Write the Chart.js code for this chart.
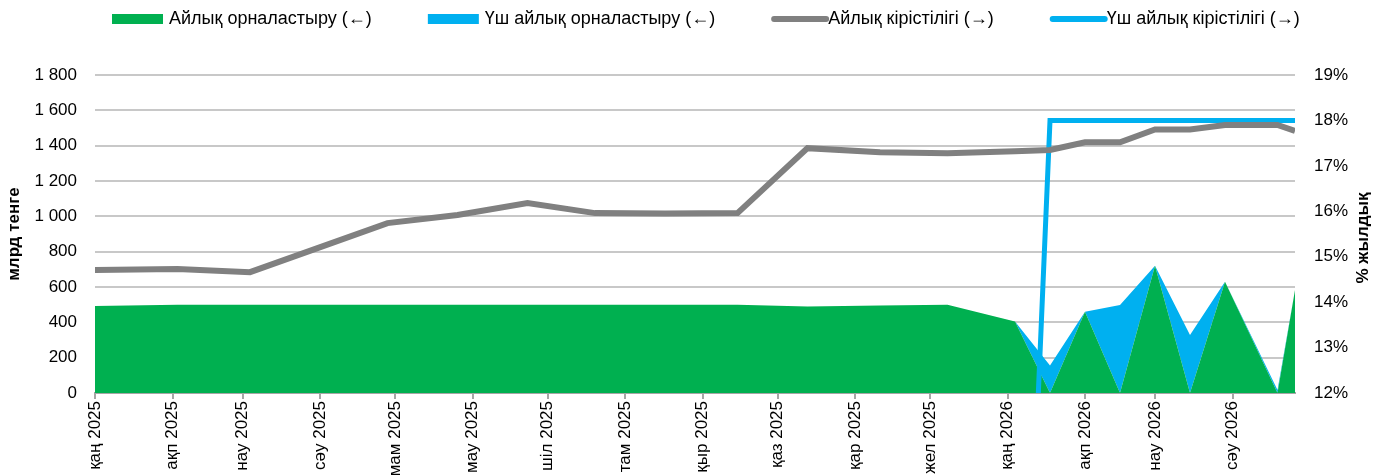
<!DOCTYPE html>
<html lang="kk">
<head>
<meta charset="utf-8">
<title>Орналастыру және кірістілік</title>
<script src="https://cdn.jsdelivr.net/npm/chart.js@4.4.1/dist/chart.umd.min.js"></script>
<style>
  html, body { margin: 0; padding: 0; background: #fff; }
  #wrap { width: 1382px; height: 475px; }
</style>
</head>
<body>
<div id="wrap"><canvas id="chart" width="1382" height="475"></canvas></div>
<script>
// auction dates: monthly in 2025, every two weeks from 2026
const auctionDates = [
  '2025-01-01', '2025-02-03', '2025-03-04', '2025-03-31', '2025-04-28', '2025-05-26',
  '2025-06-23', '2025-07-20', '2025-08-17', '2025-09-15', '2025-10-13', '2025-11-11',
  '2025-12-08', '2026-01-04', '2026-01-18', '2026-02-01', '2026-02-15', '2026-03-01',
  '2026-03-15', '2026-03-29', '2026-04-19', '2026-04-26'
];
// placement, bn tenge (left axis)
const monthlyPlacement = [492, 500, 500, 500, 500, 500, 500, 500, 500, 500, 490, 495, 500, 405, 0, 460, 0, 720, 0, 630, 0, 583];
const threeMonthPlacement = [0, 0, 0, 0, 0, 0, 0, 0, 0, 0, 0, 0, 0, 0, 156, 0, 498, 0, 328, 0, 17, 0];
// yields, % (right axis)
const monthlyYield = [14.71, 14.73, 14.66, 15.19, 15.74, 15.92, 16.18, 15.96, 15.95, 15.96, 17.39, 17.30, 17.28, 17.32, 17.35, 17.52, 17.52, 17.80, 17.80, 17.90, 17.90, 17.77];
const threeMonthDates = ['2026-01-04', '2026-01-18', '2026-02-01', '2026-02-15', '2026-03-01', '2026-03-15', '2026-03-29', '2026-04-19', '2026-04-26'];
const threeMonthYield = [0, 18.0, 18.0, 18.0, 18.0, 18.0, 18.0, 18.0, 18.0];

// x axis
const axisStart = '2025-01-01';
const axisEnd = '2026-04-26';
const monthStarts = [
  '2025-01-01', '2025-02-01', '2025-03-01', '2025-04-01', '2025-05-01', '2025-06-01', '2025-07-01', '2025-08-01',
  '2025-09-01', '2025-10-01', '2025-11-01', '2025-12-01', '2026-01-01', '2026-02-01', '2026-03-01', '2026-04-01'
];
const monthLabels = [
  'қаң 2025', 'ақп 2025', 'нау 2025', 'сәу 2025', 'мам 2025', 'мау 2025', 'шіл 2025', 'там 2025',
  'қыр 2025', 'қаз 2025', 'қар 2025', 'жел 2025', 'қаң 2026', 'ақп 2026', 'нау 2026', 'сәу 2026'
];

const GREEN = '#00b050', BLUE = '#00b0f0', GRAY = '#808080';

// narrow font if there is one, otherwise plain Liberation Sans a bit smaller
const probe = document.createElement('canvas').getContext('2d');
function textWidth(family) {
  probe.font = '20px ' + family;
  return probe.measureText('Айлық 1 800 жылдық').width;
}
const hasNarrow = textWidth("'Liberation Sans Narrow', monospace") !== textWidth('monospace');
const FAMILY = hasNarrow ? "'Liberation Sans Narrow', 'Liberation Sans', Arial, sans-serif" : "'Liberation Sans', Arial, sans-serif";
const SIZE = hasNarrow ? 20 : 17;
const LEGEND_SIZE = hasNarrow ? 21 : 18;

Chart.defaults.font.family = FAMILY;
Chart.defaults.font.size = SIZE;
Chart.defaults.color = '#000';

const day = s => (Date.parse(s) - Date.parse(axisStart)) / 86400000;
const points = (dates, values) => dates.map((d, i) => ({ x: day(d), y: values[i] }));

// legend drawn by hand so the gaps look like the original
const topLegend = {
  id: 'topLegend',
  afterDraw(chart) {
    const ctx = chart.ctx;
    const order = [2, 3, 0, 1];
    ctx.save();
    ctx.font = LEGEND_SIZE + 'px ' + FAMILY;
    ctx.textBaseline = 'middle';
    let x = 112;
    const y = 19;
    order.forEach(i => {
      const ds = chart.data.datasets[i];
      if (ds.yAxisID === 'y') {
        ctx.fillStyle = ds.backgroundColor;
        ctx.fillRect(x, y - 5, 51, 10);
      } else {
        ctx.strokeStyle = ds.borderColor;
        ctx.lineWidth = 6;
        ctx.lineCap = 'round';
        ctx.beginPath();
        ctx.moveTo(x + 3, y);
        ctx.lineTo(x + 55, y);
        ctx.stroke();
      }
      ctx.fillStyle = '#000';
      ctx.fillText(ds.label, x + 57, y);
      x += 57 + ctx.measureText(ds.label).width + 56;
    });
    ctx.restore();
  }
};

// right axis title reads bottom to top, like the left one
const rightTitle = {
  id: 'rightTitle',
  afterDraw(chart) {
    const ctx = chart.ctx;
    const a = chart.chartArea;
    ctx.save();
    ctx.font = 'bold ' + SIZE + 'px ' + FAMILY;
    ctx.fillStyle = '#000';
    ctx.textAlign = 'center';
    ctx.textBaseline = 'middle';
    ctx.translate(1363, (a.top + a.bottom) / 2 + 4);
    ctx.rotate(-Math.PI / 2);
    ctx.fillText('% жылдық', 0, 0);
    ctx.restore();
  }
};

new Chart(document.getElementById('chart'), {
  type: 'line',
  data: {
    datasets: [
      {
        label: 'Айлық кірістілігі (→)',
        data: points(auctionDates, monthlyYield),
        yAxisID: 'y2',
        borderColor: GRAY,
        borderWidth: 6,
        fill: false
      },
      {
        label: 'Үш айлық кірістілігі (→)',
        data: points(threeMonthDates, threeMonthYield),
        yAxisID: 'y2',
        borderColor: BLUE,
        borderWidth: 5,
        fill: false
      },
      {
        label: 'Айлық орналастыру (←)',
        data: points(auctionDates, monthlyPlacement),
        yAxisID: 'y',
        backgroundColor: GREEN,
        borderColor: 'rgba(0,0,0,0)',
        borderWidth: 0,
        fill: 'origin'
      },
      {
        label: 'Үш айлық орналастыру (←)',
        data: points(auctionDates, threeMonthPlacement),
        yAxisID: 'y',
        backgroundColor: BLUE,
        borderColor: 'rgba(0,0,0,0)',
        borderWidth: 0,
        fill: '-1'
      }
    ]
  },
  options: {
    responsive: false,
    animation: false,
    devicePixelRatio: 1,
    layout: { padding: { top: 75, left: 0, right: 0, bottom: 0 } },
    elements: { point: { radius: 0 }, line: { tension: 0 } },
    plugins: { legend: { display: false }, tooltip: { enabled: false } },
    scales: {
      x: {
        type: 'linear',
        min: day(axisStart),
        max: day(axisEnd),
        afterBuildTicks: s => { s.ticks = monthStarts.map(d => ({ value: day(d) })); },
        afterFit: s => { s.height = 82; },
        ticks: {
          autoSkip: false,
          minRotation: 90,
          maxRotation: 90,
          padding: 2,
          callback: (v, i) => monthLabels[i]
        },
        grid: { drawOnChartArea: false, drawTicks: true, tickLength: 6, color: '#a6a6a6', lineWidth: 2 },
        border: { display: true, color: '#a6a6a6', width: 2 }
      },
      y: {
        position: 'left',
        stacked: true,
        min: 0,
        max: 1800,
        afterFit: s => { s.width = 95; },
        ticks: {
          stepSize: 200,
          padding: 18,
          callback: v => String(v).replace(/\B(?=(\d{3})+(?!\d))/g, ' ')
        },
        grid: { color: '#c8c8c8', lineWidth: 2, drawTicks: false },
        border: { display: false },
        title: {
          display: true,
          text: 'млрд тенге',
          font: { weight: 'bold' },
          padding: { top: 4, bottom: 4 }
        }
      },
      y2: {
        position: 'right',
        min: 12,
        max: 19,
        afterFit: s => { s.width = 87; },
        ticks: { stepSize: 1, padding: 19, callback: v => v + '%' },
        grid: { drawOnChartArea: false, drawTicks: false },
        border: { display: false }
      }
    }
  },
  plugins: [topLegend, rightTitle]
});
</script>
</body>
</html>
